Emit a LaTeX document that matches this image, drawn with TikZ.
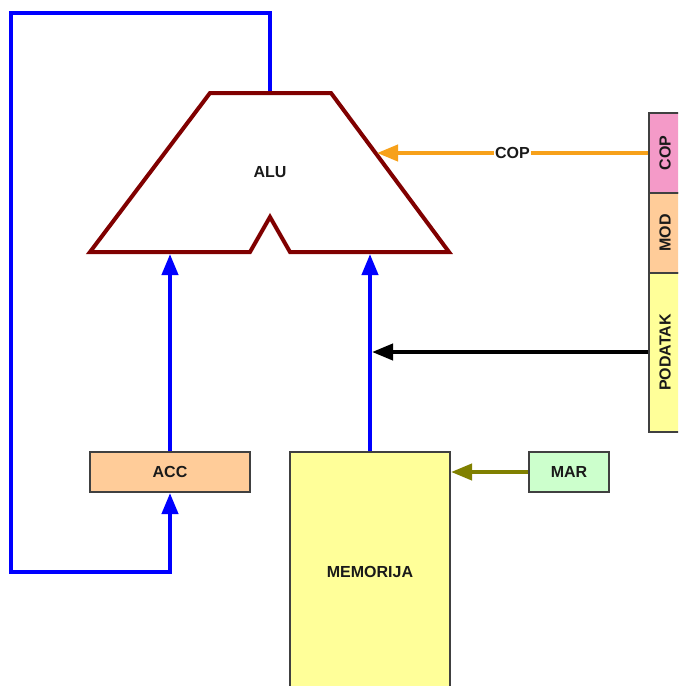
\documentclass[tikz,border=0pt]{standalone}
\usepackage{fontspec}
\setmainfont{Liberation Sans}
\usetikzlibrary{arrows.meta}
\definecolor{aluRed}{HTML}{800000}
\definecolor{busBlue}{HTML}{0000FF}
\definecolor{copOr}{HTML}{F7A11A}
\definecolor{marOl}{HTML}{808000}
\definecolor{accC}{HTML}{FFCC99}
\definecolor{memC}{HTML}{FFFF99}
\definecolor{marC}{HTML}{CCFFCC}
\definecolor{copC}{HTML}{F49AC8}
\definecolor{txt}{HTML}{1A1A1A}
\begin{document}
\begin{tikzpicture}[x=1pt,y=-1pt,
  lbl/.style={text=txt, font=\bfseries\fontsize{16}{19}\selectfont},
  box/.style={lbl, draw=black!75, line width=2pt, inner sep=0pt},
  bus/.style={line width=4pt, draw=busBlue},
  wire/.style={line width=4pt},
  tipA/.style={-{Triangle[length=21pt,width=16pt]}}]
\useasboundingbox (0,0) rectangle (678,686);
\clip (0,0) rectangle (678,686);
\fill[white] (0,0) rectangle (678,686);

% boxes
\node[box, fill=accC, minimum width=160pt, minimum height=40pt] (acc) at (170,472) {ACC};
\node[box, fill=memC, minimum width=160pt, minimum height=240pt] (mem) at (370,572) {MEMORIJA};
\node[box, fill=marC, minimum width=80pt, minimum height=40pt] (mar) at (569,472) {MAR};
\node[box, fill=copC, minimum width=32pt, minimum height=80pt] (cop) at (665,153) {\rotatebox{90}{COP}};
\node[box, fill=accC, minimum width=32pt, minimum height=80pt] (mod) at (665,233) {\rotatebox{90}{MOD}};
\node[box, fill=memC, minimum width=32pt, minimum height=159pt] (podatak) at (665,352.5) {\rotatebox{90}{PODATAK}};

% ALU coordinates
\coordinate (aluTop) at (270,93);
\coordinate (aluInL) at (170,254);
\coordinate (aluInR) at (370,254);
\coordinate (aluCop) at (377,153);
\coordinate (dataIn) at (372,352);
\coordinate (memIn) at (451,472);
\coordinate (loopA) at (270,13);
\coordinate (loopB) at (11,13);
\coordinate (loopC) at (11,572);
\coordinate (loopD) at (170,572);

% feedback loop
\draw[bus, tipA] (aluTop) -- (loopA) -- (loopB) -- (loopC) -- (loopD) -- (acc.south);

% ALU shape
\draw[aluRed, line width=4pt, fill=white] (210,93) -- (331,93) -- (449,252) -- (290,252) -- (270,217) -- (250,252) -- (90,252) -- cycle;
\node[lbl] (alu) at (270,172) {ALU};

% inputs to ALU
\draw[bus, tipA] (acc.north) -- (aluInL);
\draw[bus, tipA] (mem.north) -- (aluInR);

% COP
\draw[wire, draw=copOr, tipA] (cop.west) -- node[lbl, fill=white, inner sep=1pt] (coplbl) {COP} (aluCop);
% PODATAK
\draw[wire, draw=black, tipA] (podatak.west |- dataIn) -- (dataIn);
% MAR
\draw[wire, draw=marOl, tipA] (mar.west) -- (memIn);
\end{tikzpicture}
\end{document}
